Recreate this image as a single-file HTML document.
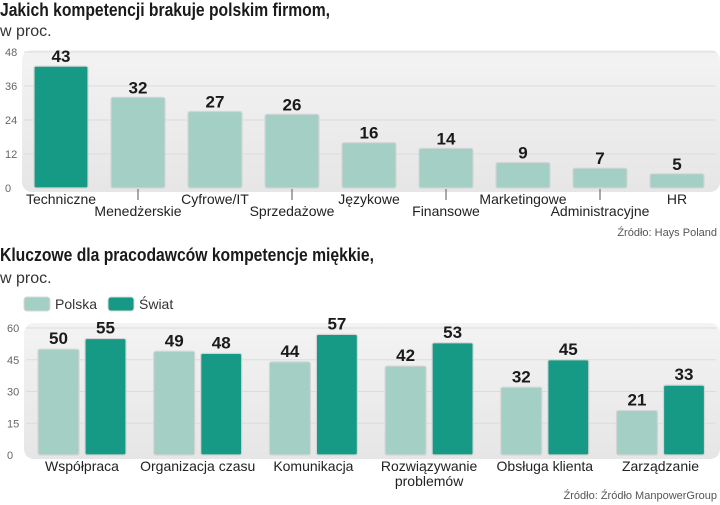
<!DOCTYPE html>
<html><head><meta charset="utf-8"><style>
body{margin:0;width:720px;height:505px;background:#fff;overflow:hidden;font-family:"Liberation Sans Narrow","Liberation Sans",sans-serif}
svg{display:block}
</style></head><body>
<svg id="s" width="720" height="505" xmlns="http://www.w3.org/2000/svg">
<defs><linearGradient id="bg" x1="0" y1="0" x2="0" y2="1"><stop offset="0" stop-color="#f3f3f3"/><stop offset="1" stop-color="#e6e6e6"/></linearGradient></defs>
<text x="0" y="16" font-size="18" font-weight="bold" fill="#1a1a1a" textLength="330" lengthAdjust="spacingAndGlyphs">Jakich kompetencji brakuje polskim firmom,</text>
<text x="0" y="36" font-size="16" fill="#333">w proc.</text>
<rect x="22" y="50" width="698" height="142" rx="10" fill="url(#bg)"/>
<text x="717" y="236" font-size="11" fill="#555" text-anchor="end">Źródło: Hays Poland</text>
<text x="0" y="261" font-size="18" font-weight="bold" fill="#1a1a1a" textLength="374" lengthAdjust="spacingAndGlyphs">Kluczowe dla pracodawców kompetencje miękkie,</text>
<text x="0" y="283" font-size="16" fill="#333">w proc.</text>
<rect x="24" y="297" width="26" height="14" rx="3" fill="#a3cfc4" stroke="#d8d8d8"/>
<text x="55" y="309" font-size="14" fill="#333">Polska</text>
<rect x="108" y="297" width="26" height="14" rx="3" fill="#179a85" stroke="#d8d8d8"/>
<text x="139" y="309" font-size="14" fill="#333">Świat</text>
<rect x="24" y="323" width="696" height="136" rx="10" fill="url(#bg)"/>
<text x="717" y="499" font-size="11" fill="#555" text-anchor="end">Źródło: Źródło ManpowerGroup</text>
<g id="c1"></g><g id="c2"></g>
</svg>
<script>
const cats1=["Techniczne","Menedżerskie","Cyfrowe/IT","Sprzedażowe","Językowe","Finansowe","Marketingowe","Administracyjne","HR"];
const vals1=[43,32,27,26,16,14,9,7,5];
const ticks1=[0,12,24,36,48];
const cats2=[["Współpraca"],["Organizacja czasu"],["Komunikacja"],["Rozwiązywanie","problemów"],["Obsługa klienta"],["Zarządzanie"]];
const polska=[50,49,44,42,32,21];
const swiat=[55,48,57,53,45,33];
const ticks2=[0,15,30,45,60];
const NS="http://www.w3.org/2000/svg";
function mk(p,tag,a,t){const e=document.createElementNS(NS,tag);for(const k in a)e.setAttribute(k,a[k]);if(t!=null)e.textContent=t;p.appendChild(e);return e;}
const g1=document.getElementById('c1'),g2=document.getElementById('c2');
const y1=v=>188-v*(136/48), x1=i=>61+i*77;
ticks1.forEach(t=>{
 if(t>0){const l=mk(g1,'line',{x1:24,x2:716,y1:y1(t),y2:y1(t),stroke:'#dcdcdc','stroke-width':1});
 
 }
 const tx=mk(g1,'text',{x:5,y:y1(t)+4,'font-size':11,fill:'#666'},t);
 
 
});
vals1.forEach((v,i)=>{
 const r=mk(g1,'rect',{x:x1(i)-27,y:y1(v),width:54,height:188-y1(v),rx:2,fill:i==0?'#179a85':'#a3cfc4',stroke:'#d5d5d5','stroke-width':1.2});
 
 
 const vt=mk(g1,'text',{x:x1(i),y:y1(v)-4,'font-size':17,'font-weight':'bold','text-anchor':'middle',fill:'#1a1a1a'},v);
 
 
 const low=i%2==1;
 if(low){const l=mk(g1,'line',{x1:x1(i),x2:x1(i),y1:189,y2:200,stroke:'#555'});
 
 }
 const lt=mk(g1,'text',{x:x1(i),y:low?216:204,'font-size':14,'text-anchor':'middle',fill:'#222'},cats1[i]);
 
 
});
const y2=v=>455-v*(127/60), gx=i=>82+i*115.7;
ticks2.forEach(t=>{
 if(t>0){const l=mk(g2,'line',{x1:26,x2:716,y1:y2(t),y2:y2(t),stroke:'#dcdcdc','stroke-width':1});
 
 }
 const tx=mk(g2,'text',{x:7,y:y2(t)+4,'font-size':11,fill:'#666'},t);
 
 
});
cats2.forEach((c,i)=>{
 [[polska[i],-44,'#a3cfc4','polska'],[swiat[i],3,'#179a85','swiat']].forEach(([v,dx,col,n])=>{
  const r=mk(g2,'rect',{x:gx(i)+dx,y:y2(v),width:41,height:455-y2(v),rx:2,fill:col,stroke:'#d5d5d5','stroke-width':1.2});
  
  
  const vt=mk(g2,'text',{x:gx(i)+dx+20.5,y:y2(v)-5,'font-size':17,'font-weight':'bold','text-anchor':'middle',fill:'#1a1a1a'},v);
  
  
 });
 c.forEach((ln,j)=>{
  const lt=mk(g2,'text',{x:gx(i),y:471+j*15,'font-size':14,'text-anchor':'middle',fill:'#222'},ln);
  
  
 });
});
</script>
</body></html>
